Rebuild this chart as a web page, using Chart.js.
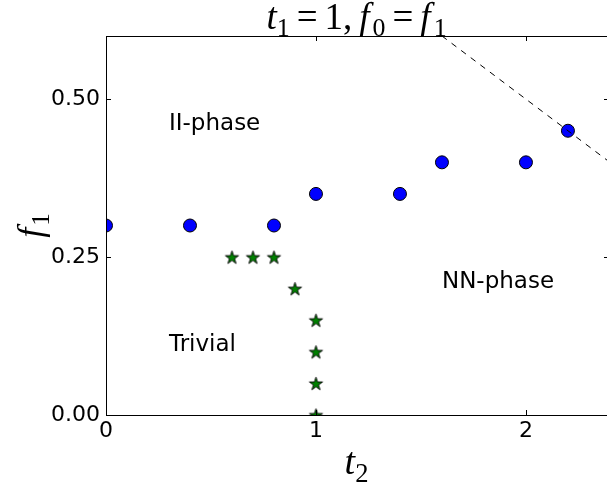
<!DOCTYPE html>
<html>
<head>
<meta charset="utf-8">
<script src="https://cdn.jsdelivr.net/npm/chart.js@4.4.1/dist/chart.umd.min.js"></script>
<style>
  html, body { margin: 0; padding: 0; background: #fff; overflow: hidden; }
</style>
</head>
<body>
<canvas id="phaseChart" width="607" height="482"></canvas>
<script>
// boundary points (blue circles)
const circleX = [0, 0.4, 0.8, 1.0, 1.4, 1.6, 2.0, 2.2];
const circleY = [0.30, 0.30, 0.30, 0.35, 0.35, 0.40, 0.40, 0.45];

// trivial phase boundary (green stars)
const starX = [0.6, 0.7, 0.8, 0.9, 1.0, 1.0, 1.0, 1.0];
const starY = [0.25, 0.25, 0.25, 0.20, 0.15, 0.10, 0.05, 0.00];

// dashed line
const lineX = [1.6, 2.4];
const lineY = [0.6, 0.4];

const xTicks = [0, 1, 2];
const yTicks = [0, 0.25, 0.5];

// phase names
const regionText = ['II-phase', 'NN-phase', 'Trivial'];
const regionX = [0.3, 1.6, 0.3];
const regionY = [0.46, 0.21, 0.11];

const toPts = (xs, ys) => xs.map((x, i) => ({ x: x, y: ys[i] }));

// filled five point star used as the point style
function makeStar(r) {
  const size = Math.ceil(r * 2 + 3);
  const c = document.createElement('canvas');
  c.width = size; c.height = size;
  const g = c.getContext('2d');
  const cx = size / 2, cy = size / 2 + r * 0.1;
  const inner = r * 0.382;
  g.beginPath();
  for (let i = 0; i < 10; i++) {
    const rad = i % 2 === 0 ? r : inner;
    const a = -Math.PI / 2 + i * Math.PI / 5;
    const px = cx + rad * Math.cos(a), py = cy + rad * Math.sin(a);
    if (i === 0) g.moveTo(px, py); else g.lineTo(px, py);
  }
  g.closePath();
  g.fillStyle = '#008000';
  g.fill();
  g.lineWidth = 0.9;
  g.strokeStyle = '#000';
  g.stroke();
  return c;
}

// draws text like "t_1" with italic letters and small subscripts
function partFont(p, size) {
  const s = p.sub ? size * 0.7 : size;
  return (p.it ? 'italic ' : '') + s + 'px "Liberation Serif"';
}
function mathWidth(ctx, parts, size) {
  let w = 0;
  parts.forEach(p => {
    ctx.font = partFont(p, size);
    w += ctx.measureText(p.t).width + (p.gap || 0);
  });
  return w;
}
function drawMath(ctx, parts, x, y, size) {
  let cx = x;
  parts.forEach(p => {
    ctx.font = partFont(p, size);
    ctx.fillText(p.t, cx, p.sub ? y + size * 0.2 : y);
    cx += ctx.measureText(p.t).width + (p.gap || 0);
  });
}

const titleParts = [
  { t: 't', it: true }, { t: '1', sub: true, gap: 7 }, { t: '=', gap: 7 }, { t: '1,', gap: 7 },
  { t: 'f', it: true, gap: 3 }, { t: '0', sub: true, gap: 7 }, { t: '=', gap: 7 },
  { t: 'f', it: true, gap: 3 }, { t: '1', sub: true }
];
const xLabelParts = [{ t: 't', it: true }, { t: '2', sub: true }];
const yLabelParts = [{ t: 'f', it: true, gap: 2 }, { t: '1', sub: true }];

const framePlugin = {
  id: 'frame',
  afterDatasetsDraw(chart) {
    const { ctx, chartArea: a, scales } = chart;
    ctx.save();
    ctx.strokeStyle = '#000';
    ctx.lineWidth = 1;
    // axes box continues just past the right edge, so no right spine here
    ctx.beginPath();
    ctx.moveTo(a.right, a.top + 0.5); ctx.lineTo(a.left + 0.5, a.top + 0.5);
    ctx.lineTo(a.left + 0.5, a.bottom + 0.5); ctx.lineTo(a.right, a.bottom + 0.5);
    xTicks.forEach(v => {
      const px = Math.round(scales.x.getPixelForValue(v)) + 0.5;
      ctx.moveTo(px, a.bottom); ctx.lineTo(px, a.bottom - 5);
      ctx.moveTo(px, a.top); ctx.lineTo(px, a.top + 5);
    });
    yTicks.forEach(v => {
      const py = Math.round(scales.y.getPixelForValue(v)) + 0.5;
      ctx.moveTo(a.left, py); ctx.lineTo(a.left + 5, py);
      ctx.moveTo(a.right, py); ctx.lineTo(a.right - 3, py);
    });
    ctx.stroke();

    // phase names
    ctx.fillStyle = '#000';
    ctx.font = '23px "DejaVu Sans"';
    ctx.textBaseline = 'middle';
    ctx.textAlign = 'left';
    regionText.forEach((t, i) => {
      ctx.fillText(t, scales.x.getPixelForValue(regionX[i]), scales.y.getPixelForValue(regionY[i]));
    });

    // title and axis labels
    ctx.textBaseline = 'alphabetic';
    const midX = (a.left + a.right) / 2;
    const tw = mathWidth(ctx, titleParts, 37);
    drawMath(ctx, titleParts, midX - tw / 2, 29, 37);
    const xw = mathWidth(ctx, xLabelParts, 38);
    drawMath(ctx, xLabelParts, midX - xw / 2, 474, 38);
    ctx.translate(42, (a.top + a.bottom) / 2);
    ctx.rotate(-Math.PI / 2);
    const yw = mathWidth(ctx, yLabelParts, 36);
    drawMath(ctx, yLabelParts, -yw / 2, 0, 36);
    ctx.restore();
  }
};

const chart = new Chart(document.getElementById('phaseChart'), {
  type: 'scatter',
  data: {
    datasets: [
      {
        data: toPts(lineX, lineY),
        showLine: true,
        borderColor: '#000',
        borderWidth: 1,
        borderDash: [6, 6],
        pointRadius: 0,
        clip: 0
      },
      {
        data: toPts(circleX, circleY),
        pointStyle: 'circle',
        pointRadius: 6.5,
        backgroundColor: '#0000ff',
        borderColor: '#000',
        borderWidth: 1,
        clip: 0
      },
      {
        data: toPts(starX, starY),
        pointStyle: makeStar(7),
        clip: 0
      }
    ]
  },
  options: {
    responsive: false,
    animation: false,
    layout: { autoPadding: false, padding: { left: 0, top: 36, right: 0, bottom: 0 } },
    plugins: { legend: { display: false }, tooltip: { enabled: false } },
    scales: {
      x: {
        type: 'linear',
        min: 0,
        max: 2.386,
        grid: { display: false, drawTicks: false },
        border: { display: false },
        afterBuildTicks: s => { s.ticks = xTicks.map(v => ({ value: v })); },
        afterFit: s => { s.height = 67; },
        ticks: {
          color: '#000',
          padding: 3,
          font: { family: 'DejaVu Sans', size: 22 },
          callback: v => String(v)
        }
      },
      y: {
        min: 0,
        max: 0.6,
        grid: { display: false, drawTicks: false },
        border: { display: false },
        afterBuildTicks: s => { s.ticks = yTicks.map(v => ({ value: v })); },
        afterFit: s => { s.width = 106; },
        ticks: {
          color: '#000',
          padding: 6,
          font: { family: 'DejaVu Sans', size: 22 },
          callback: v => v.toFixed(2)
        }
      }
    }
  },
  plugins: [framePlugin]
});
</script>
</body>
</html>
